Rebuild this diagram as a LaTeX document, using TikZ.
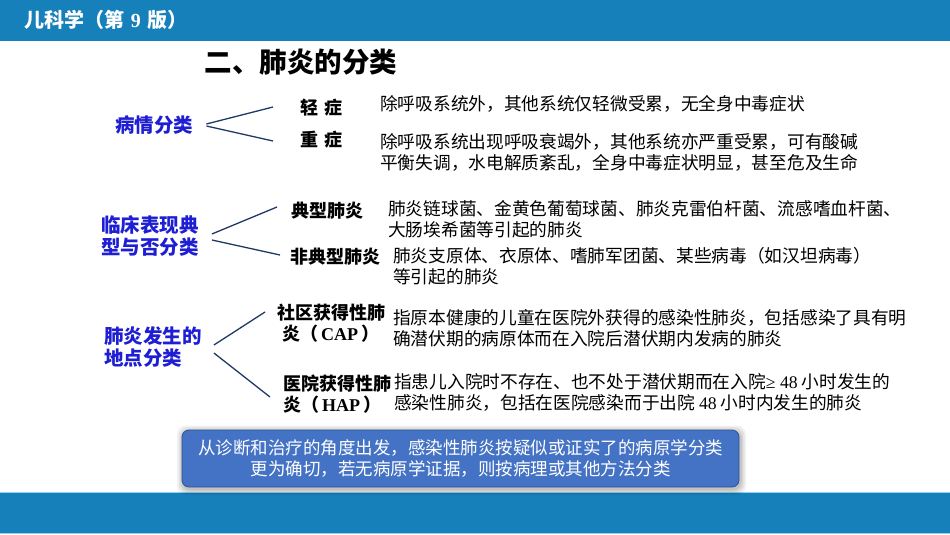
\documentclass[tikz,border=0pt]{standalone}
\usepackage{fontspec}
\setmainfont{Noto Sans CJK SC}
\newfontfamily\tnr{Liberation Serif}
\usetikzlibrary{calc}
\definecolor{barblue}{RGB}{22,128,186}
\definecolor{barlight}{RGB}{150,208,238}
\definecolor{catblue}{RGB}{30,30,210}
\definecolor{linenavy}{RGB}{31,56,100}
\definecolor{boxblue}{RGB}{68,114,196}
\definecolor{boxedge}{RGB}{47,82,143}
\tikzset{
  desc/.style={anchor=west, align=left, inner sep=0pt, font=\fontsize{17.7}{21}\selectfont},
  cat/.style={anchor=west, align=left, inner sep=0pt, text=catblue, font=\bfseries\fontsize{19.5}{22}\selectfont},
  sublabel/.style={anchor=west, align=left, inner sep=0pt, font=\bfseries\fontsize{18}{21}\selectfont},
  branch/.style={draw=linenavy, line width=1.3pt},
}
\begin{document}
\begin{tikzpicture}[x=1pt,y=-1pt]
\useasboundingbox (0,0) rectangle (950,535);
% bars
\fill[barblue] (0,0) rectangle (950,41);
\fill[barblue] (0,492) rectangle (950,533.5);
\draw[barlight, line width=1pt] (0,492) -- (950,492);
\draw[barlight, line width=1pt] (0,533.5) -- (950,533.5);
\node[anchor=west, inner sep=0pt, text=white, font=\bfseries\fontsize{20}{22}\selectfont] (hdr) at (24,20) {儿科学（第\,\,{\tnr\bfseries 9}\,\,版）};
\node[inner sep=0pt, font=\bfseries\fontsize{27.5}{30}\selectfont] (title) at (301,62) {二、肺炎的分类};
% categories
\node[cat] (b1) at (115,125) {病情分类};
\node[cat] (b2) at (101,236) {临床表现典\\型与否分类};
\node[cat] (b3) at (104,347) {肺炎发生的\\地点分类};
% sub labels
\node[sublabel] (m1) at (300,108) {轻\,\,症};
\node[sublabel] (m2) at (300,140) {重\,\,症};
\node[sublabel] (m3) at (291,211) {典型肺炎};
\node[sublabel] (m4) at (290,257) {非典型肺炎};
\node[sublabel] (m5) at (277,323.5) {社区获得性肺\\\hspace{5pt}炎（\,{\tnr\bfseries CAP}\,）};
\node[sublabel] (m6) at (283,394.5) {医院获得性肺\\炎（\,{\tnr\bfseries HAP}\,）};
% descriptions
\node[desc] (d1) at (380,104) {除呼吸系统外，其他系统仅轻微受累，无全身中毒症状};
\node[desc] (d2) at (380,152.5) {除呼吸系统出现呼吸衰竭外，其他系统亦严重受累，可有酸碱\\平衡失调，水电解质紊乱，全身中毒症状明显，甚至危及生命};
\node[desc] (d3) at (388,219) {肺炎链球菌、金黄色葡萄球菌、肺炎克雷伯杆菌、流感嗜血杆菌、\\大肠埃希菌等引起的肺炎};
\node[desc] (d4) at (393,266.5) {肺炎支原体、衣原体、嗜肺军团菌、某些病毒（如汉坦病毒）\\等引起的肺炎};
\node[desc] (d5) at (393,328.5) {指原本健康的儿童在医院外获得的感染性肺炎，包括感染了具有明\\确潜伏期的病原体而在入院后潜伏期内发病的肺炎};
\node[desc] (d6) at (394,392.5) {指患儿入院时不存在、也不处于潜伏期而在入院{\tnr ≥ 48} 小时发生的\\感染性肺炎，包括在医院感染而于出院 {\tnr 48} 小时内发生的肺炎};
% connectors
\coordinate (b1a) at ($(b1.east)+(13,-1)$);
\coordinate (b1b) at ($(b1.east)+(13,1)$);
\coordinate (m1e) at ($(m1.west)+(-27,-1)$);
\coordinate (m2e) at ($(m2.west)+(-27,1)$);
\draw[branch] (b1a) -- (m1e);
\draw[branch] (b1b) -- (m2e);
\coordinate (b2a) at ($(b2.east)+(13,-2)$);
\coordinate (b2b) at ($(b2.east)+(13,4)$);
\coordinate (m3e) at ($(m3.west)+(-14,-4)$);
\coordinate (m4e) at ($(m4.west)+(-10,-2)$);
\draw[branch] (b2a) -- (m3e);
\draw[branch] (b2b) -- (m4e);
\coordinate (b3a) at ($(b3.east)+(12,-2)$);
\coordinate (b3b) at ($(b3.east)+(12,6)$);
\coordinate (m5e) at ($(m5.west)+(-12,-11.5)$);
\coordinate (m6e) at ($(m6.west)+(-13,2.5)$);
\draw[branch] (b3a) -- (m5e);
\draw[branch] (b3b) -- (m6e);
% shadow
\foreach \g/\o in {6/0.05,4.5/0.06,3/0.07,1.5/0.08}{
  \fill[black, opacity=\o, rounded corners=9pt] (182-\g+1,430-\g+1.5) rectangle (739+\g+1,487+\g+2);
}
\node[draw=boxedge, line width=0.8pt, fill=boxblue, rounded corners=7pt, minimum width=557pt, minimum height=57pt, inner sep=0pt, text=white, align=center, font=\fontsize{17.5}{21}\selectfont] (note) at (460.5,458.5) {从诊断和治疗的角度出发，感染性肺炎按疑似或证实了的病原学分类\\更为确切，若无病原学证据，则按病理或其他方法分类};
\end{tikzpicture}
\end{document}
